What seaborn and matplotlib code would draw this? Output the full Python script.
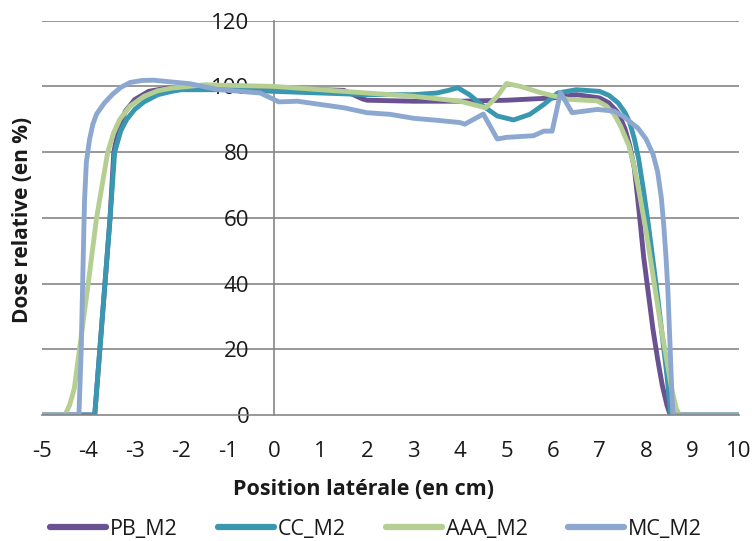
import pandas as pd
import matplotlib.pyplot as plt
import seaborn as sns

# lateral dose profiles
pb_x = [-5, -4.5, -3.86, -3.75, -3.64, -3.53, -3.45, -3.35, -3.2, -3.0, -2.7, -2.3, -2, -1, 0, 1, 1.5, 1.7, 1.9, 2, 3, 4, 5, 6, 6.5,
        7.0, 7.2, 7.4, 7.55, 7.65, 7.75, 7.85, 7.95, 8.05, 8.15, 8.25, 8.35, 8.45, 8.52, 9, 10]
pb_y = [0, 0, 0, 20, 40, 60, 80, 87, 92.5, 96, 98.5, 99.5, 99.5, 99.3, 99.3, 99, 98.8, 97.5, 96.2, 95.8, 95.5, 95.5, 95.8, 96.5, 97.5,
        96.5, 95, 92, 87, 82, 75, 62, 48, 37, 26, 17, 9, 3, 0, 0, 0]

cc_x = [-5, -4.5, -3.86, -3.75, -3.64, -3.53, -3.43, -3.3, -3.17, -3.0, -2.8, -2.5, -2.2, -2, -1, 0, 1, 2, 3, 3.5, 3.75, 3.95, 4.2, 4.5,
        4.8, 5.15, 5.5, 5.8, 6.1, 6.5, 7.0, 7.2, 7.4, 7.55, 7.65, 7.75, 7.84, 7.95, 8.05, 8.15, 8.25, 8.35, 8.45, 8.53, 9, 10]
cc_y = [0, 0, 0, 20, 40, 60, 80, 86.5, 90, 93, 95.3, 97.5, 98.5, 99, 99, 98.5, 98, 97.5, 97.5, 98, 98.8, 99.6, 97.5, 94,
        91, 89.8, 91.5, 94.5, 98, 99, 98.5, 97.3, 95, 92, 89, 84, 78, 68, 58, 47, 36, 24, 12, 0, 0, 0]

aaa_x = [-5, -4.5, -4.4, -4.3, -4.15, -4.0, -3.82, -3.7, -3.58, -3.45, -3.32, -3.1, -2.8, -2.5, -2.2, -1.5, 0, 1, 2, 3, 4, 4.55,
         4.8, 5.0, 5.3, 5.73, 6.31, 6.95, 7.15, 7.31, 7.45, 7.63, 7.74, 7.85, 8.0, 8.1, 8.21, 8.32, 8.43, 8.55, 8.65, 8.72, 9, 10]
aaa_y = [0, 0, 3, 8, 24, 40, 60, 70, 80, 86, 90, 94, 97, 98.7, 99.5, 100.5, 100, 99, 98, 97, 95.5, 93.5,
         97, 100.9, 100, 98.1, 96.1, 95.6, 94, 91.6, 88, 82, 76, 68, 56, 47, 37, 27, 18, 8, 2, 0, 0, 0]

mc_x = [-5, -4.5, -4.2, -4.15, -4.12, -4.08, -4.04, -3.97, -3.9, -3.82, -3.65, -3.47, -3.3, -3.1, -2.85, -2.6, -1.8, -1.23, -0.3,
        0, 0.1, 0.5, 1, 1.5, 2, 2.5, 3, 3.5, 4, 4.1, 4.5, 4.8, 5.0, 5.58, 5.8, 5.98, 6.16, 6.41, 6.95, 7.31, 7.5, 7.63, 7.82,
        8.0, 8.15, 8.25, 8.33, 8.38, 8.43, 8.47, 8.52, 8.56, 8.58, 9, 10]
mc_y = [0, 0, 0, 20, 40, 65, 77, 84, 88.5, 91.6, 95, 97.7, 99.7, 101.2, 101.8, 101.9, 100.8, 99.1, 98,
        96, 95.3, 95.5, 94.5, 93.5, 92, 91.5, 90.3, 89.7, 89, 88.5, 91.6, 84, 84.5, 85, 86.4, 86.4, 98.1, 92, 93, 92.5, 91, 89.5, 87.4,
        84, 79.4, 74, 66, 58, 48, 38, 20, 5, 0, 0, 0]

names = ['PB_M2', 'CC_M2', 'AAA_M2', 'MC_M2']
colors = ['#6A5191', '#3A97B0', '#B5CF93', '#8DA8D0']

frames = []
for name, xs, ys in zip(names, [pb_x, cc_x, aaa_x, mc_x], [pb_y, cc_y, aaa_y, mc_y]):
    frames.append(pd.DataFrame({'x': xs, 'y': ys, 'serie': name}))
df = pd.concat(frames, ignore_index=True)

sns.set_style('white')
plt.rcParams['font.family'] = ['Open Sans', 'DejaVu Sans']
plt.rcParams['axes.unicode_minus'] = False

fig = plt.figure(figsize=(7.52, 5.41), dpi=100)
ax = fig.add_axes([0.0555, 0.2329, 0.9272, 0.7288])

grey = '#868686'
for v in range(20, 121, 20):
    ax.axhline(v, color=grey, lw=1.2, zorder=0)

sns.lineplot(data=df, x='x', y='y', hue='serie', palette=dict(zip(names, colors)),
             sort=False, estimator=None, lw=3.5, ax=ax, legend=False)
for line in ax.lines:
    line.set_solid_joinstyle('round')
    line.set_solid_capstyle('round')

ax.set_xlim(-5, 10)
ax.set_ylim(0, 120)
ax.set_xticks(range(-5, 11))
ax.set_yticks(range(0, 121, 20))

for s in ['top', 'right']:
    ax.spines[s].set_visible(False)
ax.spines['left'].set_position(('data', 0))
for s in ['left', 'bottom']:
    ax.spines[s].set_color(grey)
    ax.spines[s].set_linewidth(1.2)
ax.spines['left'].set_zorder(0)

ax.tick_params(axis='x', direction='out', length=5, width=1.2, color=grey, labelsize=16, pad=14)
ax.tick_params(axis='y', direction='inout', length=8, width=1.2, color=grey, labelsize=16, pad=14)
ax.tick_params(axis='both', labelcolor='#1a1a1a')

ax.set_xlabel('')
ax.set_ylabel('')
fig.text(0.483, 0.096, 'Position latérale (en cm)', fontsize=15.5, fontweight='bold',
         ha='center', va='center', color='#1a1a1a')
fig.text(0.030, 0.593, 'Dose relative (en %)', rotation=90, fontsize=15,
         fontweight='bold', ha='center', va='center', color='#1a1a1a')

handles = [plt.Line2D([], [], color=c, lw=4.5, solid_capstyle='round') for c in colors]
fig.legend(handles, names, loc='center', bbox_to_anchor=(0.5, 0.022), ncol=4,
           frameon=False, fontsize=15.5, handlelength=2.6, handletextpad=0.15,
           columnspacing=1.9, labelcolor='#1a1a1a')

fig.savefig('out.png', dpi=100)
